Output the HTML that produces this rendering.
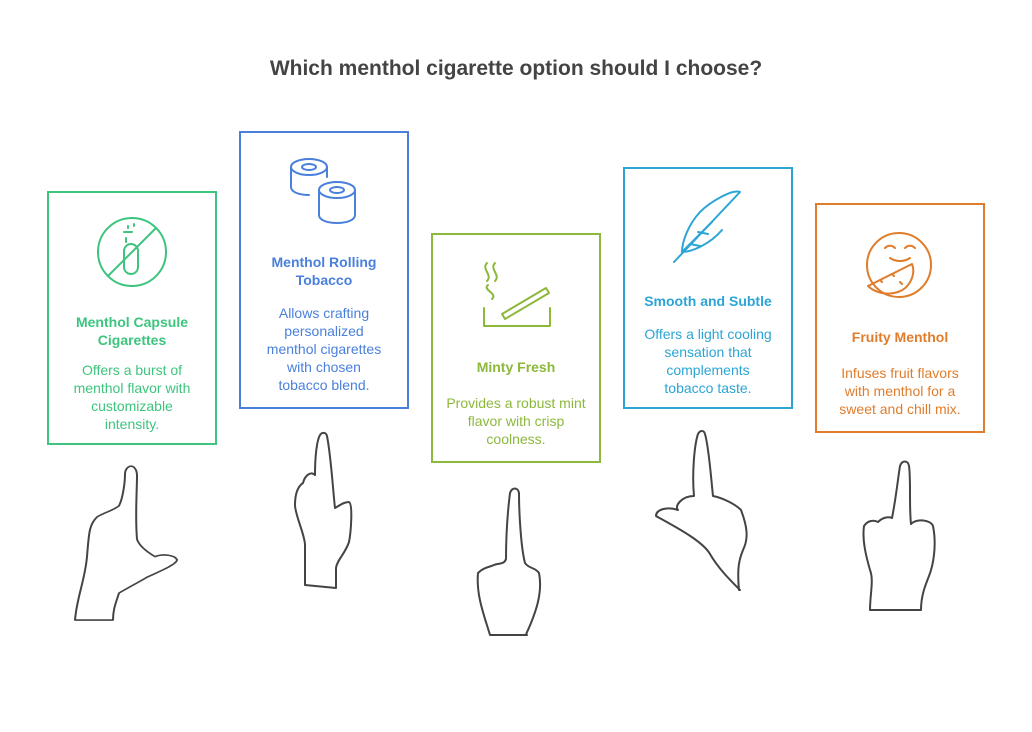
<!DOCTYPE html>
<html><head><meta charset="utf-8"><style>
body{margin:0;width:1032px;height:732px;background:#fff;font-family:"Liberation Sans",sans-serif;position:relative;overflow:hidden}
h1{position:absolute;top:57px;left:0;width:1032px;text-align:center;font-size:21px;font-weight:bold;color:#444;margin:0}
.b{position:absolute;border:2px solid;box-sizing:border-box;text-align:center}
.t{position:absolute;left:0;width:100%;font-weight:bold;font-size:14px;line-height:18px}
.d{position:absolute;left:16px;right:16px;font-size:14px;line-height:18px}
svg{position:absolute;left:0;top:0}
</style></head><body>
<h1>Which menthol cigarette option should I choose?</h1>
<div class="b" style="left:47px;top:191px;width:170px;height:254px;border-color:#3dc47e;color:#3dc47e">
 <div class="t" style="top:120px">Menthol Capsule<br>Cigarettes</div>
 <div class="d" style="top:168px;left:14px;right:14px">Offers a burst of menthol flavor with customizable intensity.</div></div>
<div class="b" style="left:239px;top:131px;width:170px;height:278px;border-color:#4a80dc;color:#4a80dc">
 <div class="t" style="top:120px">Menthol Rolling<br>Tobacco</div>
 <div class="d" style="top:171px;left:20px;right:20px">Allows crafting personalized menthol cigarettes with chosen tobacco blend.</div></div>
<div class="b" style="left:431px;top:233px;width:170px;height:230px;border-color:#8cb83c;color:#8cb83c">
 <div class="t" style="top:123px">Minty Fresh</div>
 <div class="d" style="top:159px;left:12px;right:12px">Provides a robust mint flavor with crisp coolness.</div></div>
<div class="b" style="left:623px;top:167px;width:170px;height:242px;border-color:#2ca5d6;color:#2ca5d6">
 <div class="t" style="top:123px">Smooth and Subtle</div>
 <div class="d" style="top:156px;left:13px;right:13px">Offers a light cooling sensation that complements<br>tobacco taste.</div></div>
<div class="b" style="left:815px;top:203px;width:170px;height:230px;border-color:#e07d2c;color:#e07d2c">
 <div class="t" style="top:123px">Fruity Menthol</div>
 <div class="d" style="top:159px;left:12px;right:12px">Infuses fruit flavors with menthol for a sweet and chill mix.</div></div>
<svg width="1032" height="732" fill="none" stroke-width="2" stroke-linecap="round" stroke-linejoin="round">
<g stroke="#3dc47e"><circle cx="132" cy="252" r="34"/><line x1="108" y1="276" x2="156" y2="228"/><rect x="124" y="244" width="14" height="30" rx="7"/><path d="M124 232h8M126 238v4M128 226v2M134 224v2"/></g>
<g stroke="#4a80dc"><ellipse cx="309" cy="167" rx="18" ry="8"/><ellipse cx="309" cy="167" rx="7" ry="3"/><path d="M291 167v20c0 5 8 8 18 8M327 167v10"/><ellipse cx="337" cy="190" rx="18" ry="8"/><ellipse cx="337" cy="190" rx="7" ry="3"/><path d="M319 190v25c0 5 8 8 18 8s18-3 18-8v-25"/></g>
<g stroke="#8cb83c"><path d="M484 308v18h66v-18"/><path d="M502 314l44-26 3 5-44 26z"/><path d="M487 263c-6 6 6 12 0 18M495 263c-6 6 6 12 0 18"/><path d="M488 285c-6 5 10 8 4 14"/></g>
<g stroke="#2ca5d6"><path d="M674 262l66-70c-8-3-30 10-40 20-12 13-18 30-18 40 10 0 28-8 40-22"/><path d="M682 252l30-30M700 246l-10-2M708 234l-10-2"/></g>
<g stroke="#e07d2c"><circle cx="899" cy="265" r="32"/><path d="M885 248c3-3 7-3 10 0M905 248c3-3 7-3 10 0M890 258c6 4 14 4 20 0"/><path d="M868 286l44-22c4 10-2 24-14 28-12 4-24 0-30-6z"/><path d="M880 280l2 2M892 274l2 2M900 282l2 2"/></g>
<g stroke="#444" fill="#fff">
<g transform="translate(0,467) scale(1,0.793) translate(0,-427)"><path d="M75 620c2-30 10-50 12-80s2-40 10-50c8-6 16-8 22-14 4-10 6-30 6-40 0-6 3-10 6-10s6 4 6 12c0 20-2 50 0 80 2 8 10 16 18 22 8-4 20-2 22 4 0 6-20 16-30 22-8 6-20 14-28 20-3 12-6 20-6 34z"/></g>
<path d="M305 585v-40c0-10-10-30-10-40 0-10 2-18 8-22 2-8 8-12 12-8 0-20 2-35 5-40 2-3 6-3 7 1 4 20 6 55 8 72 4-2 8-6 14-6 4 2 2 30 0 40-4 12-12 18-13 26v20z"/>
<path d="M490 635c-6-20-14-40-12-62 6-6 12-6 16-8 4-2 10 0 12-6 0-25 2-50 4-66 2-6 8-6 9 0 0 20 2 55 6 70 4 6 10 4 14 10 4 20-4 40-8 50-4 10-6 12-4 12z"/>
<path d="M740 590c-10-10-22-22-30-36-8-14-40-30-54-38 0-6 10-10 22-6-4-4 4-14 16-14-2-20 0-50 4-62 2-4 6-4 7 0 4 14 6 44 8 62 10 2 22 8 28 14 6 16 8 28 2 40-4 10-6 18-4 40z"/>
<path d="M870 610c0-16 4-30 0-40-4-14-8-30-6-44 4-6 10-6 14-4 4-4 10-6 14-4 4-20 6-40 8-52 2-6 8-6 9 0 2 14 0 40 2 58 6-6 20-4 22 2 4 20 0 40-4 50-4 10-8 20-8 34z"/>
</g></svg>
</body></html>
